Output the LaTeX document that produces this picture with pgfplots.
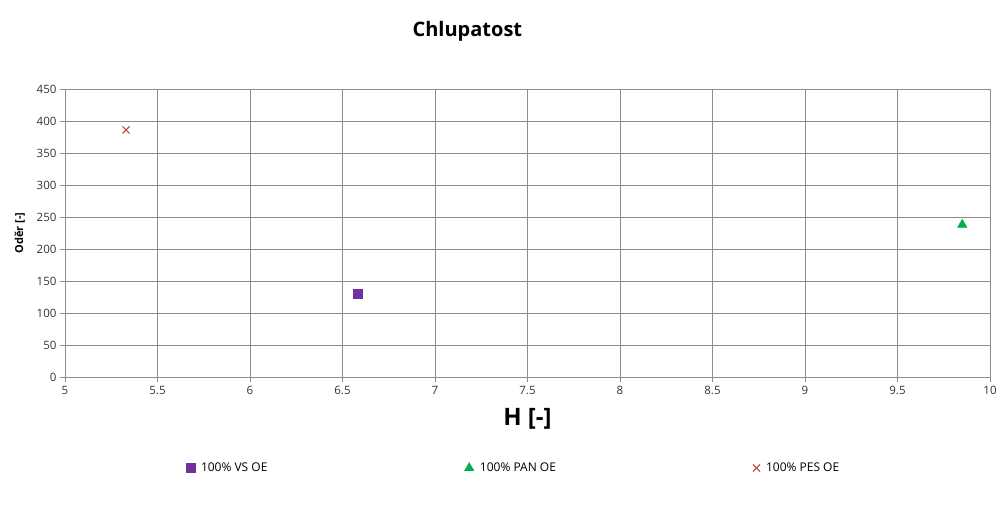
\documentclass[border=0pt]{standalone}
\usepackage{fontspec}
\setmainfont{Open Sans}
\usepackage{pgfplots}
\pgfplotsset{compat=1.18}

\definecolor{vs}{HTML}{7030A0}
\definecolor{pan}{HTML}{00B050}
\definecolor{pes}{HTML}{C0504D}
\definecolor{gridc}{HTML}{8C8C8C}

\begin{document}
\begin{tikzpicture}
\begin{axis}[
    scale only axis,
    width=925pt, height=288pt,
    xmin=5, xmax=10, ymin=0, ymax=450,
    xtick={5,5.5,...,10}, ytick={0,50,...,450},
    grid=major,
    grid style={gridc, line width=0.8pt},
    axis line style={gridc, line width=0.8pt},
    tick style={gridc, line width=0.8pt},
    tick align=outside, major tick length=5pt,
    xtick pos=bottom, ytick pos=left,
    /pgf/number format/assume math mode=true,
    tick label style={font=\fontsize{11.5}{13}\selectfont, text=black!80},
    xticklabel style={yshift=-1pt},
    xlabel={\textbf{H [-]}},
    xlabel style={font=\fontsize{24}{28}\selectfont, yshift=-6pt},
    ylabel={\textbf{Oděr [-]}},
    ylabel style={font=\fontsize{11}{13}\selectfont, yshift=5pt},
    title={\textbf{Chlupatost}},
    title style={font=\fontsize{20}{24}\selectfont, at={(0.435,1)}, yshift=38pt},
    legend columns=3,
    legend style={at={(0.485,-0.316)}, anchor=center, draw=none,
        font=\fontsize{12}{14}\selectfont,
        /tikz/every odd column/.append style={column sep=4pt},
        /tikz/every even column/.append style={column sep=195pt}},
    legend cell align=left,
    clip=false,
]
\addplot[only marks, mark=square*, mark size=4.5pt, color=vs] coordinates {(6.58,130)};
\addlegendentry{100\% VS OE}
\addplot[only marks, mark=triangle*, mark size=5.5pt, color=pan] coordinates {(9.85,238)};
\addlegendentry{100\% PAN OE}
\addplot[only marks, mark=x, mark size=5pt, line width=1.1pt, color=pes] coordinates {(5.33,386)};
\addlegendentry{100\% PES OE}
\end{axis}
\path ([xshift=-65pt,yshift=-127pt]current axis.south west) rectangle ++(1001pt,504pt);
\end{tikzpicture}
\end{document}
